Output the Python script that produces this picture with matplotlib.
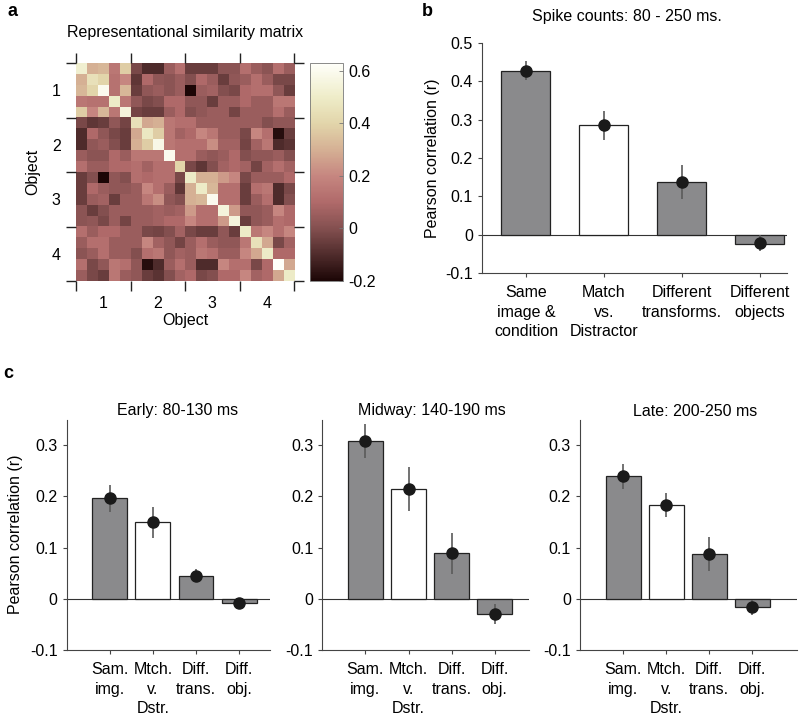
import numpy as np
import matplotlib
matplotlib.use('Agg')
import matplotlib.pyplot as plt
from matplotlib.colors import LinearSegmentedColormap

plt.rcParams['font.family'] = ['Liberation Sans', 'DejaVu Sans']
plt.rcParams['font.size'] = 11.5

W, H = 800, 717
FS = 11.5

# 表示相似矩阵（上三角，按行）
rsm_upper = [
    [0.52, 0.30, 0.32, 0.15, 0.38, -0.02, -0.10, -0.10, 0.05, 0.12, -0.05, -0.05, -0.05, 0.02, 0.02, 0.12, 0.05, 0.02, 0.12, 0.05],
    [0.45, 0.40, 0.13, 0.20, -0.07, 0.10, 0.03, 0.02, 0.05, 0.00, 0.10, 0.05, -0.05, 0.03, 0.05, 0.12, 0.05, -0.02, -0.02],
    [0.60, 0.13, 0.32, -0.05, 0.03, 0.05, 0.02, 0.05, -0.20, 0.05, 0.07, 0.00, -0.02, 0.10, 0.12, 0.12, 0.03, -0.05],
    [0.50, 0.15, 0.03, -0.02, 0.00, 0.10, 0.10, 0.03, 0.03, -0.05, 0.05, 0.05, 0.10, 0.05, 0.05, 0.15, 0.15],
    [0.55, -0.03, -0.05, -0.05, 0.05, 0.10, 0.00, 0.03, 0.05, 0.05, -0.03, 0.05, 0.05, 0.05, 0.12, 0.05],
    [0.45, 0.28, 0.30, 0.15, 0.12, 0.12, 0.05, 0.05, 0.05, 0.05, 0.05, 0.05, 0.00, 0.03, 0.03],
    [0.48, 0.38, 0.15, 0.07, 0.10, 0.20, 0.15, 0.05, 0.05, -0.02, 0.20, 0.12, -0.18, -0.05],
    [0.58, 0.15, 0.12, 0.12, 0.12, 0.22, 0.07, 0.07, -0.03, 0.07, 0.15, -0.10, -0.08],
    [0.60, 0.12, 0.12, 0.05, 0.03, 0.05, 0.10, 0.00, 0.03, 0.03, 0.05, 0.00],
    [0.40, -0.02, -0.07, 0.00, 0.07, 0.10, 0.07, -0.03, 0.07, 0.12, 0.07],
    [0.50, 0.30, 0.30, 0.25, 0.20, -0.02, 0.05, 0.05, 0.05, 0.10],
    [0.50, 0.32, 0.12, 0.12, -0.05, 0.12, 0.15, -0.10, -0.02],
    [0.60, 0.12, 0.12, -0.05, 0.05, 0.12, -0.10, 0.00],
    [0.55, 0.25, 0.03, 0.03, 0.05, 0.20, 0.10],
    [0.55, -0.05, 0.03, 0.05, 0.12, 0.10],
    [0.50, 0.15, 0.20, 0.12, 0.20],
    [0.45, 0.28, -0.02, 0.07],
    [0.50, 0.10, 0.10],
    [0.63, 0.28],
    [0.50],
]
object_labels = ['1', '2', '3', '4']
cbar_ticks = [-0.2, 0, 0.2, 0.4, 0.6]
cbar_labels = ['-0.2', '0', '0.2', '0.4', '0.6']

# b: 80-250 ms
b_labels = ['Same\nimage &\ncondition', 'Match\nvs.\nDistractor', 'Different\ntransforms.', 'Different\nobjects']
b_values = [0.428, 0.285, 0.137, -0.024]
b_errors = [0.024, 0.038, 0.044, 0.020]
b_dots = [0.428, 0.285, 0.137, -0.022]
b_yticks = [-0.1, 0, 0.1, 0.2, 0.3, 0.4, 0.5]
b_yticklabels = ['-0.1', '0', '0.1', '0.2', '0.3', '0.4', '0.5']

# c: 三个时间窗
c_labels = ['Sam.\nimg.', 'Mtch.\nv.\nDstr.', 'Diff.\ntrans.', 'Diff.\nobj.']
c_titles = ['Early: 80-130 ms', 'Midway: 140-190 ms', 'Late: 200-250 ms']
early_values = [0.196, 0.149, 0.045, -0.008]
early_errors = [0.027, 0.030, 0.013, 0.008]
mid_values = [0.308, 0.215, 0.089, -0.030]
mid_errors = [0.033, 0.043, 0.040, 0.020]
late_values = [0.239, 0.183, 0.087, -0.017]
late_errors = [0.025, 0.024, 0.033, 0.015]
c_yticks = [-0.1, 0, 0.1, 0.2, 0.3]
c_yticklabels = ['-0.1', '0', '0.1', '0.2', '0.3']

bar_colors = ['#8a8a8c', 'white', '#8a8a8c', '#8a8a8c']


def rect(x0, y0, x1, y1):
    """像素坐标 -> figure坐标"""
    return [x0 / W, 1 - y1 / H, (x1 - x0) / W, (y1 - y0) / H]


def bar_panel(ax, values, errors, dots, xlim, ylim, yticks, yticklabels, xlabels, width):
    x = np.arange(1, len(values) + 1)
    ax.axhline(0, color='#333333', lw=0.8, zorder=1)
    ax.bar(x, values, width=width, color=bar_colors, edgecolor='#222222', lw=0.9, zorder=2)
    ax.errorbar(x, dots, yerr=errors, fmt='o', color='#1a1a1a', ecolor='#5a5a5a',
                elinewidth=1.2, ms=8, capsize=0, zorder=3)
    ax.set_xlim(*xlim)
    ax.set_ylim(*ylim)
    ax.set_yticks(yticks)
    ax.set_yticklabels(yticklabels)
    ax.set_xticks(x)
    ax.set_xticklabels(xlabels, linespacing=1.35)
    for s in ['top', 'right']:
        ax.spines[s].set_visible(False)
    for s in ['left', 'bottom']:
        ax.spines[s].set_color('#444444')
        ax.spines[s].set_linewidth(0.8)
    ax.tick_params(direction='out', length=3, width=0.8, color='#444444', labelsize=FS)
    ax.tick_params(axis='x', pad=6)


fig = plt.figure(figsize=(W / 100, H / 100), dpi=100)

# ---- a ----
rsm = np.zeros((20, 20))
for i, row in enumerate(rsm_upper):
    rsm[i, i:] = row
rsm = rsm + np.triu(rsm, 1).T

cmap = LinearSegmentedColormap.from_list('rsm', [
    (0.0, (28 / 255, 6 / 255, 6 / 255)),
    (0.1 / 0.83, (80 / 255, 44 / 255, 44 / 255)),
    (0.2 / 0.83, (132 / 255, 80 / 255, 80 / 255)),
    (0.3 / 0.83, (176 / 255, 106 / 255, 106 / 255)),
    (0.4 / 0.83, (198 / 255, 134 / 255, 128 / 255)),
    (0.5 / 0.83, (213 / 255, 176 / 255, 148 / 255)),
    (0.6 / 0.83, (226 / 255, 213 / 255, 170 / 255)),
    (0.7 / 0.83, (238 / 255, 236 / 255, 200 / 255)),
    (1.0, (1.0, 1.0, 0.98)),
])

ax_a = fig.add_axes(rect(76, 63, 294, 281))
im = ax_a.imshow(rsm, cmap=cmap, vmin=-0.2, vmax=0.63, aspect='auto', interpolation='nearest')
bounds = [-0.5, 4.5, 9.5, 14.5, 19.5]
centers = [2, 7, 12, 17]
ax_a.set_xticks(bounds)
ax_a.set_yticks(bounds)
ax_a.set_xticklabels([])
ax_a.set_yticklabels([])
ax_a.set_xticks(centers, minor=True)
ax_a.set_yticks(centers, minor=True)
ax_a.set_xticklabels(object_labels, minor=True)
ax_a.set_yticklabels(object_labels, minor=True)
ax_a.tick_params(which='major', direction='out', length=7, width=1.0, color='#222222',
                 top=True, right=True, bottom=True, left=True)
ax_a.tick_params(which='minor', length=0, labelsize=FS, pad=11)
for s in ax_a.spines.values():
    s.set_visible(False)
ax_a.set_xlabel('Object', fontsize=FS, labelpad=1)
ax_a.set_ylabel('Object', fontsize=FS, labelpad=8)
fig.text(185 / W, 1 - 33 / H, 'Representational similarity matrix', ha='center', va='center', fontsize=FS)

cax = fig.add_axes(rect(310, 63, 343, 281))
cb = fig.colorbar(im, cax=cax, ticks=cbar_ticks)
cb.ax.set_yticklabels(cbar_labels)
cb.ax.tick_params(direction='in', length=3, width=0.6, color='#777777', labelsize=FS, pad=4)
cb.outline.set_linewidth(0.6)
cb.outline.set_edgecolor('#777777')

fig.text(8 / W, 1 - 12 / H, 'a', fontsize=13, fontweight='bold', va='center')

# ---- b ----
ax_b = fig.add_axes(rect(482, 43, 787, 273))
bar_panel(ax_b, b_values, b_errors, b_dots, (0.436, 4.35), (-0.1, 0.5),
          b_yticks, b_yticklabels, b_labels, 0.63)
ax_b.set_ylabel('Pearson correlation (r)', fontsize=FS, labelpad=4)
fig.text(627 / W, 1 - 16 / H, 'Spike counts: 80 - 250 ms.', ha='center', va='center', fontsize=FS)
fig.text(427 / W, 1 - 12 / H, 'b', fontsize=13, fontweight='bold', va='center', ha='center')

# ---- c ----
c_values = [early_values, mid_values, late_values]
c_errors = [early_errors, mid_errors, late_errors]
c_boxes = [(66.7, 270), (322.3, 529), (580, 797)]
c_title_x = [178, 432, 695]
for k in range(3):
    x0, x1 = c_boxes[k]
    ax = fig.add_axes(rect(x0, 419.5, x1, 650))
    bar_panel(ax, c_values[k], c_errors[k], c_values[k], (0, (x1 - x0) / 43.1), (-0.1, 0.35),
              c_yticks, c_yticklabels, c_labels, 0.81)
    if k == 0:
        ax.set_ylabel('Pearson correlation (r)', fontsize=FS, labelpad=5)
    fig.text(c_title_x[k] / W, 1 - 411 / H, c_titles[k], ha='center', va='center', fontsize=FS)

fig.text(8 / W, 1 - 373 / H, 'c', fontsize=13, fontweight='bold', va='center', ha='center')

plt.savefig('out.png', dpi=100)
plt.close()
